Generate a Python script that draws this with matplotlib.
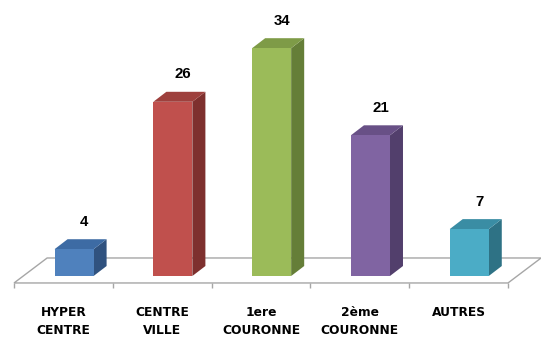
import matplotlib
matplotlib.use("Agg")
import matplotlib.pyplot as plt
from matplotlib.patches import Polygon

# Survey counts by area
categories = ["HYPER\nCENTRE", "CENTRE\nVILLE", "1ere\nCOURONNE", "2ème\nCOURONNE", "AUTRES"]
values = [4, 26, 34, 21, 7]
front_colors = ["#4F81BD", "#C0504D", "#9BBB59", "#8064A2", "#4BACC6"]
top_colors = ["#3D6BA4", "#9E403D", "#7E9B47", "#685086", "#3A8DA4"]
side_colors = ["#30527F", "#7E302E", "#657E38", "#523F6C", "#2E7285"]

# Oblique projection parameters (x in category slots, y in value units)
BAR_OFF = -0.09       # front-face left edge relative to slot centre
BAR_W = 0.395         # front-face width
DX, DY = 0.132, 1.49  # bar depth offset
FLOOR_Y = -1.04       # floor front edge height
FLOOR_DX, FLOOR_DY = 0.335, 3.73

fig = plt.figure(figsize=(5.41, 3.40), dpi=100)
ax = fig.add_axes([0, 0, 1, 1])
ax.set_xlim(-0.642, 4.834)
ax.set_ylim(-9.55, 41.19)
ax.axis("off")

n = len(values)
edge = "#A6A6A6"

# floor
x0, x1 = -0.5, n - 0.5
floor = Polygon([(x0, FLOOR_Y), (x1, FLOOR_Y),
                 (x1 + FLOOR_DX, FLOOR_Y + FLOOR_DY), (x0 + FLOOR_DX, FLOOR_Y + FLOOR_DY)],
                closed=True, facecolor="white", edgecolor=edge, linewidth=1.0, zorder=1)
ax.add_patch(floor)
for i in range(n + 1):
    ax.plot([x0 + i, x0 + i], [FLOOR_Y, FLOOR_Y - 0.75], color=edge, lw=1.0, zorder=1,
            solid_capstyle="butt")

# bars
for i, (v, fc, tc, sc) in enumerate(zip(values, front_colors, top_colors, side_colors)):
    l = i + BAR_OFF
    r = l + BAR_W
    top = Polygon([(l, v), (r, v), (r + DX, v + DY), (l + DX, v + DY)],
                  closed=True, facecolor=tc, edgecolor="none", zorder=3)
    side = Polygon([(r, 0), (r + DX, DY), (r + DX, v + DY), (r, v)],
                   closed=True, facecolor=sc, edgecolor="none", zorder=3)
    front = Polygon([(l, 0), (r, 0), (r, v), (l, v)],
                    closed=True, facecolor=fc, edgecolor="none", zorder=4)
    for p in (side, top, front):
        ax.add_patch(p)
    ax.text(l + BAR_W / 2 + 0.105, v + DY + 2.6, str(v), ha="center", va="center",
            fontsize=10.8, fontweight="bold", family="Liberation Sans", color="black", zorder=5)

# category labels
for i, lab in enumerate(categories):
    ax.text(i, FLOOR_Y - 3.5, lab, ha="center", va="top", fontsize=8.8,
            fontweight="bold", family="DejaVu Sans", linespacing=1.5, color="black")

fig.savefig("out.png", dpi=100, facecolor="white")
